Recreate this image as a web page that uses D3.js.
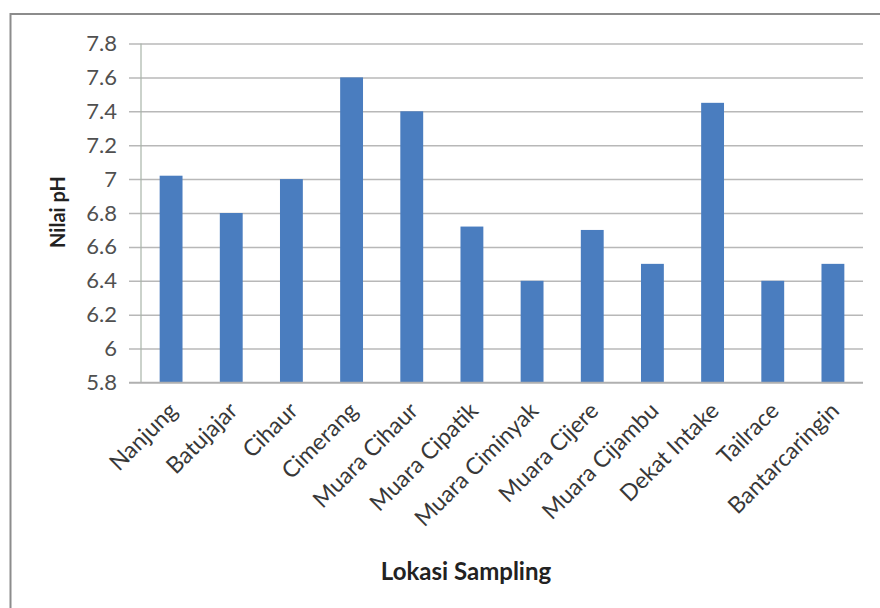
<!DOCTYPE html>
<html>
<head>
<meta charset="utf-8">
<script src="https://cdn.jsdelivr.net/npm/d3@7"></script>
<style>
  html, body { margin: 0; padding: 0; background: #fff; }
  svg { display: block; }
  text { font-family: Lato, "Open Sans", sans-serif; }
</style>
</head>
<body>
<svg id="chart" width="880" height="608"></svg>
<script>
// pH per sampling location
const categories = ["Nanjung", "Batujajar", "Cihaur", "Cimerang", "Muara Cihaur", "Muara Cipatik",
  "Muara Ciminyak", "Muara Cijere", "Muara Cijambu", "Dekat Intake", "Tailrace", "Bantarcaringin"];
const phValues = [7.02, 6.8, 7.0, 7.6, 7.4, 6.72, 6.4, 6.7, 6.5, 7.45, 6.4, 6.5];
const yTicks = [5.8, 6, 6.2, 6.4, 6.6, 6.8, 7, 7.2, 7.4, 7.6, 7.8];
const yTitle = "Nilai pH";
const xTitle = "Lokasi Sampling";

const svg = d3.select("#chart");
const W = 880, H = 608;
const plot = { left: 141, right: 863, top: 43.5, bottom: 382.5 };

svg.append("rect").attr("width", W).attr("height", H).attr("fill", "#fff");

// chart frame (top and left edges)
svg.append("path")
  .attr("d", `M10.5,${H} V14 H${W}`)
  .attr("fill", "none").attr("stroke", "#8c8c8c").attr("stroke-width", 2);

const x = d3.scaleBand().domain(categories).range([plot.left, plot.right]).paddingInner(0.62).paddingOuter(0.31);
const y = d3.scaleLinear().domain([5.8, 7.8]).range([plot.bottom, plot.top]);

// horizontal gridlines with tick marks extending left of the axis
const yAxis = d3.axisLeft(y).tickValues(yTicks)
  .tickSize(-(plot.right - plot.left)).tickPadding(12)
  .tickFormat(d => d3.format("")(+d.toFixed(1)));
const gy = svg.append("g").attr("transform", `translate(${plot.left},0)`).call(yAxis);
gy.select(".domain").remove();
gy.selectAll(".tick line").attr("stroke", "#b8b8b8").attr("stroke-width", 1.5)
  .attr("x1", -12);
gy.selectAll(".tick text").attr("fill", "#505050").attr("font-size", 22).attr("x", -24);

// bars
svg.append("g").selectAll("rect").data(categories).join("rect")
  .attr("x", d => x(d))
  .attr("width", x.bandwidth())
  .attr("y", (d, i) => y(phValues[i]))
  .attr("height", (d, i) => y(5.8) - y(phValues[i]))
  .attr("fill", "#4a7dbf");

// axis lines
svg.append("line").attr("x1", plot.left).attr("x2", plot.left)
  .attr("y1", plot.top).attr("y2", plot.bottom)
  .attr("stroke", "#a8b4a8").attr("stroke-width", 1.2);
svg.append("line").attr("x1", plot.left - 12).attr("x2", plot.right)
  .attr("y1", plot.bottom).attr("y2", plot.bottom)
  .attr("stroke", "#b0b0b0").attr("stroke-width", 1.5);

// rotated category labels
const xAxis = d3.axisBottom(x).tickSize(0).tickPadding(0);
const gx = svg.append("g").attr("transform", `translate(0,${plot.bottom})`).call(xAxis);
gx.select(".domain").remove();
gx.selectAll(".tick text")
  .attr("font-size", 23).attr("fill", "#383838")
  .attr("text-anchor", "end")
  .attr("dy", "0.35em")
  .attr("transform", "translate(2,24) rotate(-45)");

// axis titles
svg.append("text")
  .attr("transform", `translate(58,212) rotate(-90)`)
  .attr("text-anchor", "middle").attr("dy", "0.35em")
  .attr("font-size", 20).attr("font-weight", "bold").attr("fill", "#222")
  .text(yTitle);
svg.append("text")
  .attr("x", 466).attr("y", 580)
  .attr("text-anchor", "middle")
  .attr("font-size", 24).attr("font-weight", "bold").attr("fill", "#222")
  .text(xTitle);
</script>
</body>
</html>
